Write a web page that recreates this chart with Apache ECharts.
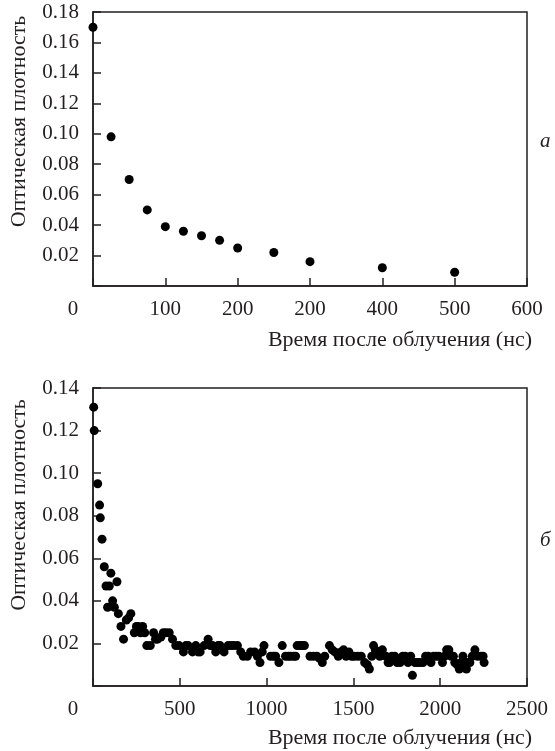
<!DOCTYPE html>
<html>
<head>
<meta charset="utf-8">
<script src="https://cdn.jsdelivr.net/npm/echarts@6/dist/echarts.min.js"></script>
<style>
html,body{margin:0;padding:0;background:#fff;}
#chart{width:555px;height:751px;}
</style>
</head>
<body>
<div id="chart"></div>
<script>
// ---- Data (a) ----
var topX = [0, 25, 50, 75, 100, 125, 150, 175, 200, 250, 300, 400, 500];
var topY = [0.170, 0.098, 0.070, 0.050, 0.039, 0.036, 0.033, 0.030, 0.025, 0.022, 0.016, 0.012, 0.009];
var topXLabels = ['0', '100', '200', '200', '400', '500', '600'];
var topYLabels = ['', '0.02', '0.04', '0.06', '0.08', '0.10', '0.12', '0.14', '0.16', '0.18'];

// ---- Data (б) ----
var botX = [4, 7, 27, 38, 42, 52, 65, 75, 84, 94, 103, 113, 123, 138, 146, 161, 176, 192, 205, 218,
  238, 250, 261, 274, 286, 298, 310, 330, 349, 360, 372, 391, 405, 420, 439, 458, 477, 496, 521, 535,
  548, 573, 592, 605, 617, 640, 663, 676, 688, 707, 720, 732, 755, 778, 795, 812, 832, 851, 866, 889,
  908, 931, 947, 962, 975, 985, 1023, 1040, 1052, 1071, 1090, 1109, 1125, 1138, 1155, 1167, 1176, 1192, 1205, 1218,
  1250, 1270, 1290, 1305, 1321, 1335, 1362, 1378, 1393, 1413, 1428, 1443, 1458, 1474, 1490, 1504, 1525, 1545, 1565, 1580,
  1592, 1606, 1616, 1626, 1636, 1652, 1667, 1687, 1700, 1708, 1722, 1738, 1752, 1769, 1784, 1799, 1815, 1830, 1840, 1855,
  1870, 1885, 1901, 1916, 1931, 1947, 1962, 1977, 1992, 2013, 2025, 2037, 2050, 2064, 2076, 2084, 2098, 2110, 2120, 2131,
  2141, 2151, 2161, 2171, 2185, 2200, 2215, 2235, 2247, 2253];
var botY = [0.131, 0.120, 0.095, 0.085, 0.079, 0.069, 0.056, 0.047, 0.037, 0.047, 0.053, 0.040, 0.037, 0.049, 0.034, 0.028, 0.022, 0.031, 0.032, 0.034,
  0.025, 0.028, 0.028, 0.025, 0.028, 0.025, 0.019, 0.019, 0.025, 0.022, 0.022, 0.023, 0.025, 0.025, 0.025, 0.022, 0.019, 0.019, 0.016, 0.019,
  0.019, 0.016, 0.019, 0.016, 0.016, 0.019, 0.022, 0.019, 0.019, 0.016, 0.019, 0.019, 0.016, 0.019, 0.019, 0.019, 0.019, 0.016, 0.014, 0.014,
  0.016, 0.016, 0.014, 0.011, 0.016, 0.019, 0.014, 0.014, 0.014, 0.011, 0.019, 0.014, 0.014, 0.014, 0.014, 0.014, 0.019, 0.019, 0.019, 0.019,
  0.014, 0.014, 0.014, 0.013, 0.011, 0.014, 0.019, 0.017, 0.016, 0.014, 0.016, 0.017, 0.014, 0.016, 0.014, 0.014, 0.014, 0.014, 0.011, 0.010,
  0.008, 0.014, 0.019, 0.017, 0.016, 0.014, 0.017, 0.014, 0.011, 0.011, 0.014, 0.014, 0.011, 0.011, 0.014, 0.014, 0.011, 0.014, 0.005, 0.011,
  0.011, 0.011, 0.011, 0.014, 0.014, 0.011, 0.014, 0.014, 0.014, 0.011, 0.014, 0.017, 0.017, 0.014, 0.014, 0.011, 0.010, 0.008, 0.011, 0.014,
  0.011, 0.008, 0.011, 0.011, 0.014, 0.017, 0.014, 0.014, 0.014, 0.011];
var botXLabels = ['0', '500', '1000', '1500', '2000', '2500'];
var botYLabels = ['', '0.02', '0.04', '0.06', '0.08', '0.10', '0.12', '0.14'];

var xTitle = 'Время после облучения (нс)';
var yTitle = 'Оптическая плотность';
var panelA = 'а';
var panelB = 'б';

function zip(a, b) { return a.map(function (v, i) { return [v, b[i]]; }); }

var FONT = 'Liberation Serif';
var INK = '#231f20';
var TICKFS = 21;
var TITLEFS = 22;

function xAxisCfg(gridIndex, max, interval, labels, nameTop) {
  return {
    gridIndex: gridIndex, type: 'value', min: 0, max: max, interval: interval,
    axisLine: { show: true, onZero: false, lineStyle: { color: INK, width: 1.5 } },
    axisTick: { show: true, inside: true, length: 8, lineStyle: { color: INK, width: 1.5 } },
    splitLine: { show: false },
    axisLabel: {
      margin: 13, color: INK, fontFamily: FONT, fontSize: TICKFS,
      formatter: function (v) {
        var s = labels[Math.round(v / interval)];
        return v === 0 ? '{o|' + s + '}' : s;
      },
      rich: { o: { fontFamily: FONT, fontSize: TICKFS, color: INK, padding: [0, 40, 0, 0] } }
    },
    name: xTitle, nameLocation: 'end', nameGap: 5,
    nameTextStyle: { fontFamily: FONT, fontSize: TITLEFS, color: INK, align: 'right', verticalAlign: 'top', padding: [nameTop, 0, 0, 0] }
  };
}
function yAxisCfg(gridIndex, max, labels, shift) {
  return {
    gridIndex: gridIndex, type: 'value', min: 0, max: max, interval: 0.02,
    axisLine: { show: true, onZero: false, lineStyle: { color: INK, width: 1.5 } },
    axisTick: { show: true, inside: true, length: 8, lineStyle: { color: INK, width: 1.5 } },
    splitLine: { show: false },
    axisLabel: {
      margin: 14, color: INK, fontFamily: FONT, fontSize: TICKFS,
      formatter: function (v) { return labels[Math.round(v / 0.02)]; }
    },
    name: yTitle, nameLocation: 'middle', nameRotate: 90, nameGap: 63,
    nameTextStyle: { fontFamily: FONT, fontSize: TITLEFS, color: INK, padding: [0, 0, 0, shift] }
  };
}

var chart = echarts.init(document.getElementById('chart'), null, { renderer: 'canvas' });
chart.setOption({
  animation: false,
  backgroundColor: '#fff',
  grid: [
    { left: 92, right: 28, top: 12, height: 274, show: true, borderColor: INK, borderWidth: 1.5, backgroundColor: 'transparent' },
    { left: 92, right: 28, top: 388, height: 298, show: true, borderColor: INK, borderWidth: 1.5, backgroundColor: 'transparent' }
  ],
  xAxis: [
    xAxisCfg(0, 600, 100, topXLabels, 43),
    xAxisCfg(1, 2500, 500, botXLabels, 41)
  ],
  yAxis: [
    yAxisCfg(0, 0.18, topYLabels, 55),
    yAxisCfg(1, 0.14, botYLabels, 64)
  ],
  series: [
    { type: 'scatter', xAxisIndex: 0, yAxisIndex: 0, data: zip(topX, topY), symbol: 'circle', symbolSize: 9, itemStyle: { color: '#000', opacity: 1 } },
    { type: 'scatter', xAxisIndex: 1, yAxisIndex: 1, data: zip(botX, botY), symbol: 'circle', symbolSize: 9, itemStyle: { color: '#000', opacity: 1 } }
  ],
  graphic: [
    { type: 'text', left: 540, top: 131, style: { text: panelA, font: 'italic 21px "Liberation Serif"', fill: INK } },
    { type: 'text', left: 540, top: 530, style: { text: panelB, font: 'italic 21px "Liberation Serif"', fill: INK } }
  ]
});
</script>
</body>
</html>
